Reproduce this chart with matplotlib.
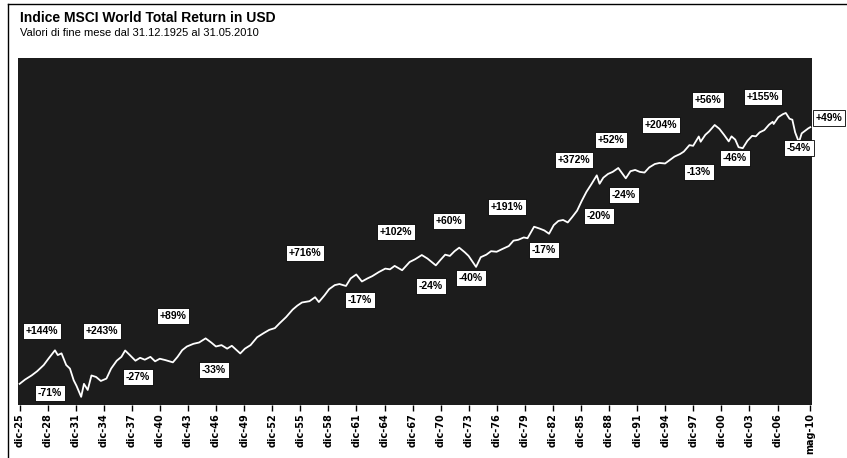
import numpy as np
import matplotlib.pyplot as plt
from matplotlib.lines import Line2D

# fine mese, anni decimali
anni = [
    1925.92, 1926.5, 1927.2, 1927.8, 1928.5, 1929.0, 1929.7,
    1930.0, 1930.4, 1930.9, 1931.3, 1931.7, 1932.0, 1932.5,
    1932.8, 1933.2, 1933.6, 1934.1, 1934.6, 1935.2, 1935.7, 1936.3, 1936.8, 1937.2,
    1937.7, 1938.3, 1938.8, 1939.3, 1939.9, 1940.4, 1940.9, 1941.5, 1942.3,
    1942.8, 1943.3, 1943.8, 1944.5, 1945.1, 1945.8,
    1946.4, 1946.9, 1947.5, 1948.1, 1948.6, 1949.5,
    1950.0, 1950.6, 1951.3, 1952.0, 1952.6, 1953.2, 1953.7, 1954.4, 1955.1, 1955.6,
    1956.1, 1956.9, 1957.5, 1957.9, 1958.5, 1959.0, 1959.6, 1960.1, 1960.8, 1961.3, 1961.9,
    1962.5,
    1963.1, 1963.6, 1964.3, 1965.0, 1965.5, 1966.0, 1966.8, 1967.6, 1968.2, 1968.9,
    1969.5, 1970.4,
    1970.9, 1971.4, 1971.9, 1972.4, 1972.9,
    1973.5, 1973.9, 1974.7,
    1975.2, 1975.8, 1976.3, 1976.9, 1977.5, 1978.2, 1978.7, 1979.2, 1979.8, 1980.2, 1980.9,
    1981.5, 1982.0, 1982.5,
    1983.0, 1983.5, 1984.0, 1984.5, 1985.0, 1985.5, 1986.0, 1986.5, 1987.0, 1987.6,
    1987.9,
    1988.3, 1988.8, 1989.3, 1989.9,
    1990.3, 1990.7,
    1991.2, 1991.7, 1992.2, 1992.7, 1993.2, 1993.8, 1994.3, 1994.9, 1995.5, 1995.9,
    1996.5, 1996.9, 1997.5, 1997.9, 1998.5,
    1998.7,
    1999.2, 1999.6, 2000.2,
    2000.7, 2001.2, 2001.7, 2002.0, 2002.4, 2002.75, 2003.2,
    2003.7, 2004.2, 2004.6, 2005.0, 2005.5, 2006.0, 2006.4, 2006.5, 2007.0, 2007.5, 2007.8,
    2008.2, 2008.5, 2008.8, 2009.2,
    2009.5, 2009.9, 2010.2, 2010.42,
]
indice = [
    100, 112, 125, 140, 165, 195, 244,
    215, 225, 165, 150, 110, 95, 70.8,
    100, 85, 125, 120, 108, 115, 150, 185, 205, 242.8,
    215, 185, 200, 190, 205, 182, 195, 188, 177.2,
    205, 245, 270, 290, 300, 335,
    300, 270, 280, 255, 275, 224.4,
    255, 280, 345, 385, 420, 440, 500, 590, 720, 800,
    870, 900, 1000, 880, 1050, 1240, 1380, 1420, 1350, 1650, 1831,
    1520,
    1650, 1750, 1950, 2140, 2100, 2300, 2050, 2550, 2750, 3070,
    2800, 2333,
    2700, 3100, 3000, 3400, 3733,
    3300, 3000, 2240,
    2900, 3100, 3400, 3350, 3600, 3900, 4500, 4600, 4900, 4800, 6518,
    6200, 5900, 5410,
    6800, 7600, 7800, 7300, 8500, 10000, 13000, 16500, 20000, 25535,
    20428,
    24000, 26500, 28000, 31050,
    27000, 23598,
    28500, 29500, 28000, 27500, 31500, 34500, 35500, 35000, 39000, 42000,
    45000, 48000, 57000, 56000, 71738,
    62412,
    75000, 82000, 97363,
    88000, 75000, 63000, 72000, 66000, 54000, 52576,
    64000, 73000, 72000, 80000, 85000, 98000, 106000, 100000, 120000, 130000, 134068,
    115000, 112000, 80000, 61671,
    78000, 84000, 89000, 91890,
]

tick_pos = [1925.917 + 3 * k for k in range(28)] + [2010.375]
tick_lab = ["dic-%02d" % ((1925 + 3 * k) % 100) for k in range(28)] + ["mag-10"]

etichette = ["+144%", "-71%", "+243%", "-27%", "+89%", "-33%", "+716%", "-17%",
             "+102%", "-24%", "+60%", "-40%", "+191%", "-17%", "+372%", "-20%",
             "+52%", "-24%", "+204%", "-13%", "+56%", "-46%", "+155%", "-54%", "+49%"]
# posizione delle etichette in pixel della figura
etich_px = [(42, 331), (50, 393), (102, 331), (138, 377), (173, 316), (214, 370),
            (305, 253), (360, 300), (396, 232), (431, 286), (449, 221), (471, 278),
            (507, 207), (544, 250), (574, 160), (599, 216), (611, 140), (624, 195),
            (661, 125), (699, 172), (708, 100), (735, 158), (763, 97), (799, 148),
            (829, 118)]

W, H = 847, 458
fig = plt.figure(figsize=(W / 100, H / 100), dpi=100)
ax = fig.add_axes([18 / W, 1 - 405 / H, (812 - 18) / W, (405 - 58) / H])
ax.set_facecolor("#1c1c1c")

ax.plot(anni, indice, color="white", lw=1.3)
ax.set_yscale("log")
ax.set_ylim(57, 578000)
ax.set_xlim(1925.75, 2010.6)
ax.set_yticks([])
ax.minorticks_off()
ax.set_xticks(tick_pos)
ax.set_xticklabels(tick_lab, rotation=90, fontsize=7, fontweight="bold")
ax.tick_params(axis="x", length=4, width=1, color="black", pad=2)
for s in ax.spines.values():
    s.set_visible(False)

for t, (px, py) in zip(etichette, etich_px):
    ax.text((px - 18) / (812 - 18), (405 - py) / (405 - 58), t,
            transform=ax.transAxes, ha="center", va="center",
            fontsize=7.5, fontweight="bold", color="black",
            family=["Liberation Sans", "DejaVu Sans"],
            bbox=dict(boxstyle="square,pad=0.25", fc="white", ec="black", lw=0.6))

fig.text(20 / W, 1 - 18 / H, "Indice MSCI World Total Return in USD",
         fontsize=10, fontweight="bold", va="center",
         family=["Liberation Sans", "DejaVu Sans"])
fig.text(20 / W, 1 - 33 / H, "Valori di fine mese dal 31.12.1925 al 31.05.2010",
         fontsize=8, va="center",
         family=["Liberation Sans", "DejaVu Sans"])

# cornice
fig.add_artist(Line2D([8 / W, 1], [1 - 4 / H, 1 - 4 / H], color="black", lw=1,
                      transform=fig.transFigure))
fig.add_artist(Line2D([8 / W, 8 / W], [0, 1 - 4 / H], color="black", lw=1,
                      transform=fig.transFigure))

fig.savefig("out.png", dpi=100)
